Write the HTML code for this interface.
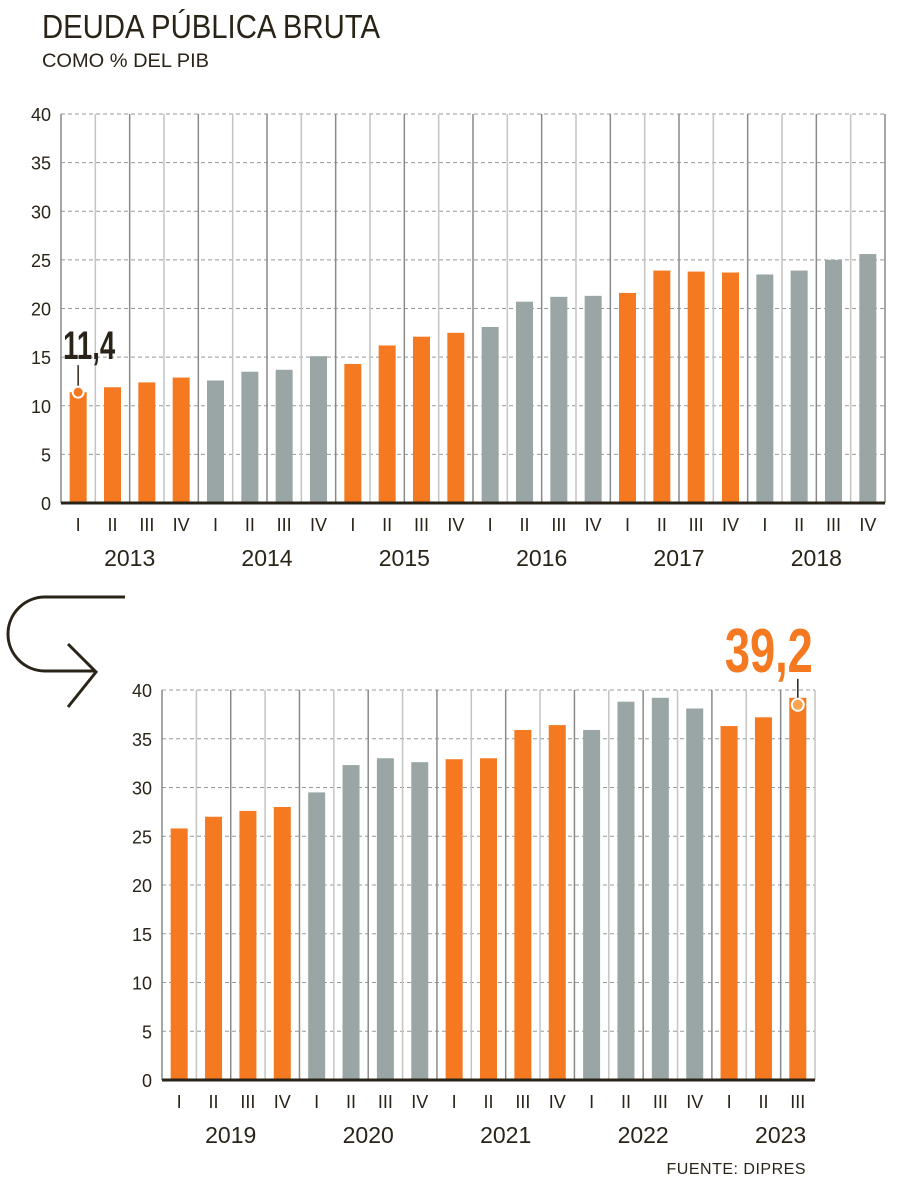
<!DOCTYPE html>
<html><head><meta charset="utf-8"><style>
html,body{margin:0;padding:0;background:#fff;}
svg{display:block;font-family:"Liberation Sans",sans-serif;}
</style></head><body>
<svg id="c" width="900" height="1184" viewBox="0 0 900 1184">
<text x="42" y="38" font-size="33" fill="#2a2418" textLength="338" lengthAdjust="spacingAndGlyphs">DEUDA PÚBLICA BRUTA</text>
<text x="42" y="67" font-size="19" fill="#2a2418" textLength="167" lengthAdjust="spacingAndGlyphs">COMO % DEL PIB</text>
<path d="M125 597 H45 A37 37 0 0 0 45 671 H95" fill="none" stroke="#2a2418" stroke-width="3"/>
<path d="M68 644 L96 672 L68 707" fill="none" stroke="#2a2418" stroke-width="3"/>
<text x="806" y="1174" font-size="16" fill="#2a2418" text-anchor="end" letter-spacing="0.5">FUENTE: DIPRES</text>
</svg>
<script>
const years1 = ["2013","2014","2015","2016","2017","2018"];
const values1 = [11.4,11.9,12.4,12.9,12.6,13.5,13.7,15.1,14.3,16.2,17.1,17.5,18.1,20.7,21.2,21.3,21.6,23.9,23.8,23.7,23.5,23.9,25.0,25.6];
const years2 = ["2019","2020","2021","2022","2023"];
const values2 = [25.8,27.0,27.6,28.0,29.5,32.3,33.0,32.6,32.9,33.0,35.9,36.4,35.9,38.8,39.2,38.1,36.3,37.2,39.2];
const quarters = ["I","II","III","IV"];
const yTicks = [0,5,10,15,20,25,30,35,40];
const orange="#f47920", gray="#9aa6a6", ink="#2a2418";
const svg=document.getElementById('c');
const NS="http://www.w3.org/2000/svg";
function mk(tag,attrs,txt){const e=document.createElementNS(NS,tag);for(const k in attrs)e.setAttribute(k,attrs[k]);if(txt!=null)e.textContent=txt;svg.appendChild(e);return e;}
function chart(cfg,values,years){
  const slot=(cfg.right-cfg.left)/values.length;
  const y=v=>cfg.bottom-(v/40)*(cfg.bottom-cfg.top);
  const x=i=>cfg.left+slot*i;
  yTicks.forEach(t=>{
    if(t>0){const l=mk('line',{x1:cfg.left,x2:cfg.right,y1:y(t),y2:y(t),stroke:'#999',"stroke-width":1,"stroke-dasharray":"4,3"});
    
    }
    const tx=mk('text',{x:cfg.left-10,y:y(t)+7,"font-size":18,fill:ink,"text-anchor":"end"},String(t));
    
    
  });
  for(let i=0;i<=values.length;i++){
    const l=mk('line',{x1:x(i),x2:x(i),y1:cfg.top,y2:cfg.bottom,stroke:i%2?'#c4c4c4':'#8a8a8a',"stroke-width":1.5});
    
    
  }
  values.forEach((v,i)=>{
    const yr=Math.floor(i/4);
    const b=mk('rect',{x:x(i)+slot/2-8.5,y:y(v),width:17,height:cfg.bottom-y(v),fill:yr%2?gray:orange});
    
    
    const q=mk('text',{x:x(i)+slot/2,y:cfg.bottom+28,"font-size":18,fill:ink,"text-anchor":"middle"},quarters[i%4]);
    
    
  });
  years.forEach((yy,k)=>{
    const t=mk('text',{x:x(k*4)+slot*2,y:cfg.bottom+63,"font-size":23,fill:ink,"text-anchor":"middle"},yy);
    
    
  });
  const ax=mk('line',{x1:cfg.left,x2:cfg.right,y1:cfg.bottom,y2:cfg.bottom,stroke:ink,"stroke-width":3});
  
  
  return {x,y,slot};
}
const c1=chart({left:61,right:885,top:114,bottom:503},values1,years1);
const c2=chart({left:162,right:815,top:690,bottom:1080},values2,years2);
// annotations
const i1=0, cx1=c1.x(i1)+c1.slot/2, cy1=c1.y(values1[i1]);
mk('line',{x1:cx1,x2:cx1,y1:cy1-27,y2:cy1-5,stroke:ink,"stroke-width":1.5});
const d1=mk('circle',{cx:cx1,cy:cy1,r:5.5,fill:orange,stroke:'#fff',"stroke-width":2});


const a1=mk('text',{x:cx1-15,y:cy1-33,"font-size":40,"font-weight":"bold",fill:ink,textLength:52,lengthAdjust:"spacingAndGlyphs"},values1[i1].toFixed(1).replace('.',','));


const i2=values2.length-1, cx2=c2.x(i2)+c2.slot/2, cy2=c2.y(values2[i2])+7;
mk('line',{x1:cx2,x2:cx2,y1:cy2-26,y2:cy2-6,stroke:ink,"stroke-width":1.5});
const d2=mk('circle',{cx:cx2,cy:cy2,r:6,fill:'#f9a54f',stroke:'#fff',"stroke-width":2});


const a2=mk('text',{x:cx2+15,y:cy2-33,"font-size":62,"font-weight":"bold",fill:orange,"text-anchor":"end",textLength:88,lengthAdjust:"spacingAndGlyphs"},values2[i2].toFixed(1).replace('.',','));


</script>
</body></html>
